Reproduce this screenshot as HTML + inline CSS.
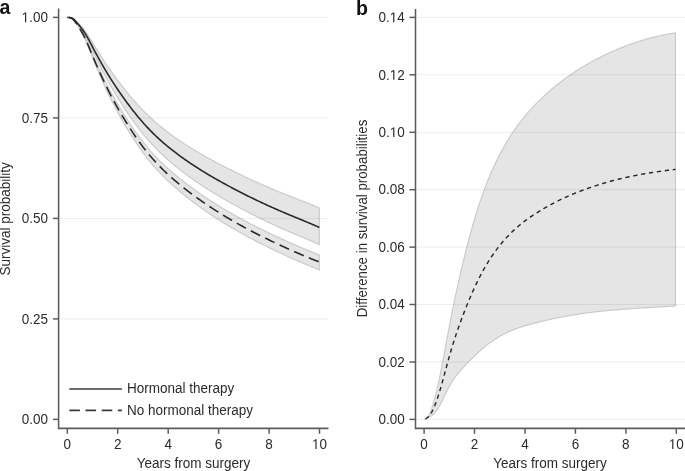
<!DOCTYPE html>
<html><head><meta charset="utf-8"><style>
html,body{margin:0;padding:0;background:#fff;}
svg{display:block;will-change:transform;}
text{font-family:"Liberation Sans", sans-serif;font-size:13.5px;fill:#2b2b2b;}
</style></head><body>
<svg width="685" height="471" viewBox="0 0 685 471">
<path d="M67.30,17.40 L68.27,17.46 L69.25,17.50 L70.22,17.57 L71.19,17.74 L72.16,18.05 L73.14,18.55 L74.11,19.23 L75.08,20.04 L76.06,20.95 L77.03,21.92 L78.00,22.90 L78.98,23.88 L79.95,24.88 L80.92,25.90 L81.89,26.97 L82.87,28.08 L83.84,29.27 L84.81,30.52 L85.79,31.87 L86.76,33.29 L87.73,34.78 L88.71,36.32 L89.68,37.91 L90.65,39.52 L91.62,41.15 L92.60,42.77 L93.57,44.39 L94.54,45.99 L95.52,47.58 L96.49,49.16 L97.46,50.73 L98.44,52.29 L99.41,53.83 L100.38,55.36 L101.35,56.87 L102.33,58.37 L103.30,59.86 L104.27,61.34 L105.25,62.80 L106.22,64.25 L107.19,65.69 L108.16,67.11 L109.14,68.52 L110.11,69.91 L111.08,71.30 L112.06,72.67 L113.03,74.03 L114.00,75.37 L114.98,76.71 L115.95,78.03 L116.92,79.34 L117.89,80.64 L118.87,81.93 L119.84,83.20 L120.81,84.47 L121.79,85.72 L122.76,86.97 L123.73,88.20 L124.71,89.42 L125.68,90.63 L126.65,91.84 L127.62,93.03 L128.60,94.21 L129.57,95.38 L130.54,96.53 L131.52,97.68 L132.49,98.82 L133.46,99.94 L134.44,101.05 L135.41,102.16 L136.38,103.25 L137.35,104.33 L138.33,105.39 L139.30,106.45 L140.27,107.49 L141.25,108.53 L142.22,109.55 L143.19,110.55 L144.16,111.55 L145.14,112.53 L146.11,113.51 L147.08,114.47 L148.06,115.41 L149.03,116.35 L150.00,117.27 L150.98,118.18 L151.95,119.08 L152.92,119.97 L153.89,120.85 L154.87,121.71 L155.84,122.57 L156.81,123.41 L157.79,124.25 L158.76,125.07 L159.73,125.88 L160.71,126.69 L161.68,127.48 L162.65,128.27 L163.62,129.04 L164.60,129.81 L165.57,130.57 L166.54,131.32 L167.52,132.06 L168.49,132.79 L169.46,133.52 L170.44,134.24 L171.41,134.95 L172.38,135.65 L173.35,136.35 L174.33,137.04 L175.30,137.73 L176.27,138.40 L177.25,139.08 L178.22,139.74 L179.19,140.40 L180.16,141.06 L181.14,141.71 L182.11,142.36 L183.08,143.00 L184.06,143.64 L185.03,144.27 L186.00,144.90 L186.98,145.52 L187.95,146.14 L188.92,146.75 L189.89,147.36 L190.87,147.97 L191.84,148.57 L192.81,149.17 L193.79,149.76 L194.76,150.35 L195.73,150.94 L196.71,151.52 L197.68,152.09 L198.65,152.67 L199.62,153.24 L200.60,153.81 L201.57,154.37 L202.54,154.93 L203.52,155.48 L204.49,156.04 L205.46,156.58 L206.44,157.13 L207.41,157.67 L208.38,158.21 L209.35,158.75 L210.33,159.28 L211.30,159.81 L212.27,160.34 L213.25,160.86 L214.22,161.39 L215.19,161.91 L216.16,162.42 L217.14,162.94 L218.11,163.45 L219.08,163.96 L220.06,164.46 L221.03,164.97 L222.00,165.47 L222.98,165.97 L223.95,166.47 L224.92,166.96 L225.89,167.45 L226.87,167.94 L227.84,168.43 L228.81,168.92 L229.79,169.41 L230.76,169.89 L231.73,170.37 L232.71,170.85 L233.68,171.33 L234.65,171.81 L235.62,172.29 L236.60,172.76 L237.57,173.23 L238.54,173.71 L239.52,174.17 L240.49,174.64 L241.46,175.11 L242.44,175.57 L243.41,176.04 L244.38,176.50 L245.35,176.96 L246.33,177.41 L247.30,177.87 L248.27,178.32 L249.25,178.78 L250.22,179.23 L251.19,179.68 L252.16,180.13 L253.14,180.57 L254.11,181.02 L255.08,181.46 L256.06,181.90 L257.03,182.34 L258.00,182.78 L258.98,183.21 L259.95,183.65 L260.92,184.08 L261.89,184.51 L262.87,184.94 L263.84,185.37 L264.81,185.79 L265.79,186.21 L266.76,186.64 L267.73,187.06 L268.71,187.48 L269.68,187.89 L270.65,188.31 L271.62,188.72 L272.60,189.13 L273.57,189.54 L274.54,189.95 L275.52,190.36 L276.49,190.76 L277.46,191.16 L278.44,191.57 L279.41,191.97 L280.38,192.36 L281.35,192.76 L282.33,193.15 L283.30,193.55 L284.27,193.94 L285.25,194.33 L286.22,194.71 L287.19,195.10 L288.16,195.49 L289.14,195.87 L290.11,196.25 L291.08,196.64 L292.06,197.02 L293.03,197.40 L294.00,197.78 L294.98,198.16 L295.95,198.54 L296.92,198.92 L297.89,199.31 L298.87,199.69 L299.84,200.07 L300.81,200.45 L301.79,200.83 L302.76,201.21 L303.73,201.60 L304.71,201.98 L305.68,202.37 L306.65,202.76 L307.62,203.14 L308.60,203.53 L309.57,203.92 L310.54,204.32 L311.52,204.71 L312.49,205.11 L313.46,205.51 L314.44,205.91 L315.41,206.31 L316.38,206.71 L317.35,207.12 L318.33,207.53 L319.30,207.94 L319.30,244.67 L318.33,244.22 L317.35,243.78 L316.38,243.35 L315.41,242.91 L314.44,242.48 L313.46,242.05 L312.49,241.62 L311.52,241.19 L310.54,240.77 L309.57,240.35 L308.60,239.93 L307.62,239.51 L306.65,239.09 L305.68,238.67 L304.71,238.25 L303.73,237.84 L302.76,237.42 L301.79,237.01 L300.81,236.59 L299.84,236.18 L298.87,235.77 L297.89,235.35 L296.92,234.94 L295.95,234.53 L294.98,234.11 L294.00,233.70 L293.03,233.29 L292.06,232.87 L291.08,232.45 L290.11,232.04 L289.14,231.62 L288.16,231.20 L287.19,230.78 L286.22,230.36 L285.25,229.94 L284.27,229.51 L283.30,229.08 L282.33,228.66 L281.35,228.22 L280.38,227.79 L279.41,227.36 L278.44,226.92 L277.46,226.48 L276.49,226.04 L275.52,225.59 L274.54,225.15 L273.57,224.70 L272.60,224.25 L271.62,223.80 L270.65,223.34 L269.68,222.88 L268.71,222.43 L267.73,221.96 L266.76,221.50 L265.79,221.04 L264.81,220.57 L263.84,220.10 L262.87,219.63 L261.89,219.15 L260.92,218.68 L259.95,218.20 L258.98,217.72 L258.00,217.23 L257.03,216.75 L256.06,216.26 L255.08,215.77 L254.11,215.28 L253.14,214.79 L252.16,214.29 L251.19,213.80 L250.22,213.30 L249.25,212.79 L248.27,212.29 L247.30,211.78 L246.33,211.28 L245.35,210.77 L244.38,210.25 L243.41,209.74 L242.44,209.22 L241.46,208.70 L240.49,208.18 L239.52,207.66 L238.54,207.13 L237.57,206.60 L236.60,206.07 L235.62,205.54 L234.65,205.01 L233.68,204.47 L232.71,203.93 L231.73,203.39 L230.76,202.85 L229.79,202.31 L228.81,201.76 L227.84,201.21 L226.87,200.66 L225.89,200.11 L224.92,199.55 L223.95,198.99 L222.98,198.43 L222.00,197.86 L221.03,197.30 L220.06,196.73 L219.08,196.15 L218.11,195.58 L217.14,195.00 L216.16,194.42 L215.19,193.83 L214.22,193.24 L213.25,192.65 L212.27,192.05 L211.30,191.45 L210.33,190.85 L209.35,190.24 L208.38,189.63 L207.41,189.02 L206.44,188.40 L205.46,187.78 L204.49,187.15 L203.52,186.52 L202.54,185.88 L201.57,185.24 L200.60,184.60 L199.62,183.95 L198.65,183.30 L197.68,182.64 L196.71,181.98 L195.73,181.31 L194.76,180.64 L193.79,179.96 L192.81,179.28 L191.84,178.59 L190.87,177.90 L189.89,177.20 L188.92,176.50 L187.95,175.79 L186.98,175.08 L186.00,174.36 L185.03,173.64 L184.06,172.91 L183.08,172.17 L182.11,171.43 L181.14,170.68 L180.16,169.92 L179.19,169.16 L178.22,168.40 L177.25,167.62 L176.27,166.84 L175.30,166.06 L174.33,165.26 L173.35,164.46 L172.38,163.64 L171.41,162.82 L170.44,162.00 L169.46,161.16 L168.49,160.31 L167.52,159.45 L166.54,158.59 L165.57,157.71 L164.60,156.82 L163.62,155.92 L162.65,155.02 L161.68,154.10 L160.71,153.16 L159.73,152.22 L158.76,151.26 L157.79,150.30 L156.81,149.32 L155.84,148.32 L154.87,147.31 L153.89,146.29 L152.92,145.26 L151.95,144.21 L150.98,143.15 L150.00,142.07 L149.03,140.98 L148.06,139.87 L147.08,138.75 L146.11,137.61 L145.14,136.45 L144.16,135.28 L143.19,134.10 L142.22,132.89 L141.25,131.68 L140.27,130.45 L139.30,129.20 L138.33,127.94 L137.35,126.66 L136.38,125.37 L135.41,124.06 L134.44,122.74 L133.46,121.40 L132.49,120.05 L131.52,118.68 L130.54,117.30 L129.57,115.90 L128.60,114.49 L127.62,113.07 L126.65,111.63 L125.68,110.17 L124.71,108.70 L123.73,107.22 L122.76,105.72 L121.79,104.21 L120.81,102.68 L119.84,101.14 L118.87,99.58 L117.89,98.00 L116.92,96.41 L115.95,94.81 L114.98,93.19 L114.00,91.55 L113.03,89.89 L112.06,88.22 L111.08,86.53 L110.11,84.82 L109.14,83.09 L108.16,81.34 L107.19,79.57 L106.22,77.79 L105.25,75.98 L104.27,74.16 L103.30,72.32 L102.33,70.45 L101.35,68.57 L100.38,66.66 L99.41,64.73 L98.44,62.79 L97.46,60.82 L96.49,58.84 L95.52,56.83 L94.54,54.80 L93.57,52.76 L92.60,50.69 L91.62,48.60 L90.65,46.51 L89.68,44.43 L88.71,42.38 L87.73,40.38 L86.76,38.45 L85.79,36.59 L84.81,34.84 L83.84,33.20 L82.87,31.65 L81.89,30.18 L80.92,28.78 L79.95,27.42 L78.98,26.10 L78.00,24.80 L77.03,23.49 L76.06,22.20 L75.08,20.98 L74.11,19.88 L73.14,18.96 L72.16,18.28 L71.19,17.86 L70.22,17.63 L69.25,17.53 L68.27,17.48 L67.30,17.40 Z" fill="#e5e5e5" stroke="#cacaca" stroke-width="1.15"/>
<path d="M67.30,17.40 L68.27,17.52 L69.25,17.62 L70.22,17.79 L71.19,18.09 L72.16,18.58 L73.14,19.32 L74.11,20.29 L75.08,21.44 L76.06,22.72 L77.03,24.10 L78.00,25.51 L78.98,26.95 L79.95,28.43 L80.92,29.97 L81.89,31.56 L82.87,33.23 L83.84,34.99 L84.81,36.84 L85.79,38.80 L86.76,40.86 L87.73,42.99 L88.71,45.19 L89.68,47.42 L90.65,49.68 L91.62,51.95 L92.60,54.20 L93.57,56.43 L94.54,58.63 L95.52,60.80 L96.49,62.94 L97.46,65.05 L98.44,67.15 L99.41,69.22 L100.38,71.28 L101.35,73.32 L102.33,75.35 L103.30,77.35 L104.27,79.34 L105.25,81.30 L106.22,83.23 L107.19,85.14 L108.16,87.02 L109.14,88.87 L110.11,90.70 L111.08,92.51 L112.06,94.30 L113.03,96.06 L114.00,97.80 L114.98,99.52 L115.95,101.22 L116.92,102.90 L117.89,104.56 L118.87,106.21 L119.84,107.84 L120.81,109.44 L121.79,111.04 L122.76,112.62 L123.73,114.18 L124.71,115.73 L125.68,117.26 L126.65,118.78 L127.62,120.28 L128.60,121.77 L129.57,123.24 L130.54,124.70 L131.52,126.14 L132.49,127.56 L133.46,128.97 L134.44,130.36 L135.41,131.74 L136.38,133.10 L137.35,134.45 L138.33,135.78 L139.30,137.09 L140.27,138.39 L141.25,139.66 L142.22,140.93 L143.19,142.17 L144.16,143.40 L145.14,144.62 L146.11,145.81 L147.08,146.99 L148.06,148.15 L149.03,149.30 L150.00,150.42 L150.98,151.53 L151.95,152.63 L152.92,153.71 L153.89,154.77 L154.87,155.82 L155.84,156.85 L156.81,157.87 L157.79,158.87 L158.76,159.86 L159.73,160.84 L160.71,161.81 L161.68,162.76 L162.65,163.70 L163.62,164.62 L164.60,165.54 L165.57,166.44 L166.54,167.34 L167.52,168.22 L168.49,169.09 L169.46,169.96 L170.44,170.81 L171.41,171.65 L172.38,172.49 L173.35,173.32 L174.33,174.13 L175.30,174.95 L176.27,175.75 L177.25,176.55 L178.22,177.34 L179.19,178.12 L180.16,178.90 L181.14,179.67 L182.11,180.44 L183.08,181.20 L184.06,181.96 L185.03,182.71 L186.00,183.46 L186.98,184.20 L187.95,184.93 L188.92,185.66 L189.89,186.39 L190.87,187.11 L191.84,187.83 L192.81,188.54 L193.79,189.25 L194.76,189.95 L195.73,190.65 L196.71,191.34 L197.68,192.03 L198.65,192.71 L199.62,193.39 L200.60,194.07 L201.57,194.74 L202.54,195.40 L203.52,196.07 L204.49,196.72 L205.46,197.38 L206.44,198.03 L207.41,198.67 L208.38,199.31 L209.35,199.95 L210.33,200.58 L211.30,201.21 L212.27,201.84 L213.25,202.46 L214.22,203.08 L215.19,203.69 L216.16,204.30 L217.14,204.91 L218.11,205.51 L219.08,206.11 L220.06,206.70 L221.03,207.30 L222.00,207.88 L222.98,208.47 L223.95,209.05 L224.92,209.63 L225.89,210.21 L226.87,210.78 L227.84,211.35 L228.81,211.91 L229.79,212.48 L230.76,213.04 L231.73,213.59 L232.71,214.15 L233.68,214.70 L234.65,215.25 L235.62,215.79 L236.60,216.33 L237.57,216.87 L238.54,217.41 L239.52,217.94 L240.49,218.47 L241.46,219.00 L242.44,219.53 L243.41,220.05 L244.38,220.57 L245.35,221.09 L246.33,221.61 L247.30,222.12 L248.27,222.63 L249.25,223.14 L250.22,223.65 L251.19,224.15 L252.16,224.65 L253.14,225.15 L254.11,225.65 L255.08,226.14 L256.06,226.64 L257.03,227.13 L258.00,227.62 L258.98,228.10 L259.95,228.59 L260.92,229.07 L261.89,229.55 L262.87,230.03 L263.84,230.50 L264.81,230.98 L265.79,231.45 L266.76,231.92 L267.73,232.39 L268.71,232.86 L269.68,233.32 L270.65,233.78 L271.62,234.25 L272.60,234.71 L273.57,235.16 L274.54,235.62 L275.52,236.08 L276.49,236.53 L277.46,236.98 L278.44,237.43 L279.41,237.88 L280.38,238.33 L281.35,238.78 L282.33,239.22 L283.30,239.67 L284.27,240.11 L285.25,240.55 L286.22,240.99 L287.19,241.43 L288.16,241.87 L289.14,242.30 L290.11,242.74 L291.08,243.17 L292.06,243.60 L293.03,244.03 L294.00,244.46 L294.98,244.88 L295.95,245.31 L296.92,245.73 L297.89,246.15 L298.87,246.57 L299.84,246.99 L300.81,247.40 L301.79,247.82 L302.76,248.23 L303.73,248.64 L304.71,249.05 L305.68,249.45 L306.65,249.86 L307.62,250.26 L308.60,250.66 L309.57,251.06 L310.54,251.45 L311.52,251.85 L312.49,252.24 L313.46,252.63 L314.44,253.02 L315.41,253.40 L316.38,253.79 L317.35,254.17 L318.33,254.55 L319.30,254.92 L319.30,269.83 L318.33,269.45 L317.35,269.07 L316.38,268.68 L315.41,268.30 L314.44,267.91 L313.46,267.52 L312.49,267.13 L311.52,266.73 L310.54,266.33 L309.57,265.93 L308.60,265.53 L307.62,265.13 L306.65,264.72 L305.68,264.31 L304.71,263.90 L303.73,263.49 L302.76,263.08 L301.79,262.66 L300.81,262.24 L299.84,261.82 L298.87,261.40 L297.89,260.98 L296.92,260.55 L295.95,260.12 L294.98,259.69 L294.00,259.26 L293.03,258.83 L292.06,258.39 L291.08,257.96 L290.11,257.52 L289.14,257.08 L288.16,256.64 L287.19,256.19 L286.22,255.75 L285.25,255.30 L284.27,254.85 L283.30,254.41 L282.33,253.95 L281.35,253.50 L280.38,253.05 L279.41,252.59 L278.44,252.14 L277.46,251.68 L276.49,251.22 L275.52,250.75 L274.54,250.29 L273.57,249.83 L272.60,249.36 L271.62,248.89 L270.65,248.42 L269.68,247.95 L268.71,247.47 L267.73,247.00 L266.76,246.52 L265.79,246.04 L264.81,245.56 L263.84,245.07 L262.87,244.59 L261.89,244.10 L260.92,243.61 L259.95,243.11 L258.98,242.62 L258.00,242.12 L257.03,241.62 L256.06,241.12 L255.08,240.62 L254.11,240.11 L253.14,239.60 L252.16,239.09 L251.19,238.58 L250.22,238.06 L249.25,237.54 L248.27,237.02 L247.30,236.50 L246.33,235.97 L245.35,235.44 L244.38,234.91 L243.41,234.37 L242.44,233.83 L241.46,233.29 L240.49,232.75 L239.52,232.20 L238.54,231.66 L237.57,231.10 L236.60,230.55 L235.62,229.99 L234.65,229.43 L233.68,228.87 L232.71,228.30 L231.73,227.73 L230.76,227.15 L229.79,226.58 L228.81,226.00 L227.84,225.41 L226.87,224.83 L225.89,224.24 L224.92,223.64 L223.95,223.04 L222.98,222.44 L222.00,221.84 L221.03,221.23 L220.06,220.62 L219.08,220.00 L218.11,219.38 L217.14,218.76 L216.16,218.13 L215.19,217.50 L214.22,216.86 L213.25,216.22 L212.27,215.58 L211.30,214.93 L210.33,214.28 L209.35,213.62 L208.38,212.96 L207.41,212.30 L206.44,211.63 L205.46,210.95 L204.49,210.27 L203.52,209.59 L202.54,208.90 L201.57,208.21 L200.60,207.51 L199.62,206.81 L198.65,206.10 L197.68,205.39 L196.71,204.67 L195.73,203.95 L194.76,203.23 L193.79,202.49 L192.81,201.76 L191.84,201.01 L190.87,200.27 L189.89,199.51 L188.92,198.75 L187.95,197.99 L186.98,197.22 L186.00,196.45 L185.03,195.67 L184.06,194.88 L183.08,194.09 L182.11,193.29 L181.14,192.49 L180.16,191.68 L179.19,190.86 L178.22,190.04 L177.25,189.21 L176.27,188.38 L175.30,187.53 L174.33,186.68 L173.35,185.82 L172.38,184.95 L171.41,184.08 L170.44,183.19 L169.46,182.29 L168.49,181.38 L167.52,180.47 L166.54,179.54 L165.57,178.59 L164.60,177.64 L163.62,176.68 L162.65,175.70 L161.68,174.71 L160.71,173.71 L159.73,172.69 L158.76,171.66 L157.79,170.61 L156.81,169.55 L155.84,168.47 L154.87,167.38 L153.89,166.27 L152.92,165.15 L151.95,164.00 L150.98,162.84 L150.00,161.67 L149.03,160.47 L148.06,159.26 L147.08,158.03 L146.11,156.78 L145.14,155.51 L144.16,154.22 L143.19,152.91 L142.22,151.58 L141.25,150.24 L140.27,148.88 L139.30,147.50 L138.33,146.10 L137.35,144.68 L136.38,143.25 L135.41,141.79 L134.44,140.32 L133.46,138.83 L132.49,137.33 L131.52,135.80 L130.54,134.26 L129.57,132.70 L128.60,131.13 L127.62,129.53 L126.65,127.92 L125.68,126.29 L124.71,124.65 L123.73,122.98 L122.76,121.30 L121.79,119.61 L120.81,117.89 L119.84,116.16 L118.87,114.41 L117.89,112.64 L116.92,110.84 L115.95,109.03 L114.98,107.20 L114.00,105.34 L113.03,103.46 L112.06,101.55 L111.08,99.62 L110.11,97.66 L109.14,95.68 L108.16,93.67 L107.19,91.63 L106.22,89.56 L105.25,87.47 L104.27,85.33 L103.30,83.17 L102.33,80.99 L101.35,78.79 L100.38,76.56 L99.41,74.32 L98.44,72.06 L97.46,69.77 L96.49,67.46 L95.52,65.12 L94.54,62.76 L93.57,60.35 L92.60,57.91 L91.62,55.44 L90.65,52.96 L89.68,50.48 L88.71,48.03 L87.73,45.62 L86.76,43.27 L85.79,41.01 L84.81,38.85 L83.84,36.81 L82.87,34.88 L81.89,33.04 L80.92,31.28 L79.95,29.59 L78.98,27.96 L78.00,26.36 L77.03,24.80 L76.06,23.29 L75.08,21.86 L74.11,20.59 L73.14,19.52 L72.16,18.71 L71.19,18.16 L70.22,17.83 L69.25,17.65 L68.27,17.54 L67.30,17.40 Z" fill="#e5e5e5" stroke="#cacaca" stroke-width="1.15"/>
<path d="M424.10,419.20 L425.07,418.98 L426.04,418.56 L427.01,417.95 L427.98,416.92 L428.95,415.30 L429.92,413.31 L430.89,410.94 L431.87,408.24 L432.84,405.21 L433.81,401.89 L434.78,398.32 L435.75,394.53 L436.72,390.52 L437.69,386.30 L438.66,381.89 L439.63,377.31 L440.60,372.56 L441.57,367.67 L442.54,362.67 L443.51,357.57 L444.48,352.41 L445.45,347.20 L446.43,341.97 L447.40,336.75 L448.37,331.56 L449.34,326.43 L450.31,321.38 L451.28,316.42 L452.25,311.53 L453.22,306.73 L454.19,302.01 L455.16,297.37 L456.13,292.81 L457.10,288.33 L458.07,283.93 L459.04,279.60 L460.01,275.34 L460.98,271.15 L461.96,267.03 L462.93,262.96 L463.90,258.95 L464.87,255.01 L465.84,251.13 L466.81,247.31 L467.78,243.55 L468.75,239.86 L469.72,236.23 L470.69,232.67 L471.66,229.17 L472.63,225.74 L473.60,222.38 L474.57,219.08 L475.54,215.85 L476.52,212.69 L477.49,209.60 L478.46,206.57 L479.43,203.61 L480.40,200.72 L481.37,197.89 L482.34,195.12 L483.31,192.41 L484.28,189.77 L485.25,187.18 L486.22,184.65 L487.19,182.18 L488.16,179.75 L489.13,177.39 L490.10,175.07 L491.08,172.80 L492.05,170.59 L493.02,168.42 L493.99,166.29 L494.96,164.21 L495.93,162.17 L496.90,160.17 L497.87,158.22 L498.84,156.30 L499.81,154.42 L500.78,152.58 L501.75,150.77 L502.72,148.99 L503.69,147.25 L504.66,145.54 L505.64,143.86 L506.61,142.21 L507.58,140.60 L508.55,139.01 L509.52,137.45 L510.49,135.92 L511.46,134.42 L512.43,132.95 L513.40,131.50 L514.37,130.08 L515.34,128.68 L516.31,127.31 L517.28,125.96 L518.25,124.64 L519.22,123.34 L520.19,122.06 L521.17,120.81 L522.14,119.57 L523.11,118.36 L524.08,117.17 L525.05,115.99 L526.02,114.84 L526.99,113.70 L527.96,112.58 L528.93,111.48 L529.90,110.39 L530.87,109.32 L531.84,108.26 L532.81,107.22 L533.78,106.19 L534.75,105.18 L535.73,104.18 L536.70,103.19 L537.67,102.21 L538.64,101.24 L539.61,100.29 L540.58,99.34 L541.55,98.40 L542.52,97.48 L543.49,96.56 L544.46,95.66 L545.43,94.77 L546.40,93.88 L547.37,93.01 L548.34,92.14 L549.31,91.29 L550.29,90.44 L551.26,89.61 L552.23,88.78 L553.20,87.96 L554.17,87.15 L555.14,86.35 L556.11,85.56 L557.08,84.78 L558.05,84.01 L559.02,83.25 L559.99,82.49 L560.96,81.74 L561.93,81.00 L562.90,80.27 L563.87,79.55 L564.85,78.83 L565.82,78.13 L566.79,77.43 L567.76,76.73 L568.73,76.05 L569.70,75.37 L570.67,74.70 L571.64,74.04 L572.61,73.38 L573.58,72.73 L574.55,72.09 L575.52,71.45 L576.49,70.83 L577.46,70.20 L578.43,69.59 L579.41,68.98 L580.38,68.37 L581.35,67.78 L582.32,67.18 L583.29,66.60 L584.26,66.02 L585.23,65.44 L586.20,64.87 L587.17,64.31 L588.14,63.75 L589.11,63.20 L590.08,62.65 L591.05,62.11 L592.02,61.57 L592.99,61.04 L593.96,60.51 L594.94,59.99 L595.91,59.47 L596.88,58.96 L597.85,58.45 L598.82,57.95 L599.79,57.45 L600.76,56.96 L601.73,56.47 L602.70,55.99 L603.67,55.51 L604.64,55.04 L605.61,54.57 L606.58,54.11 L607.55,53.65 L608.52,53.20 L609.50,52.75 L610.47,52.31 L611.44,51.87 L612.41,51.44 L613.38,51.01 L614.35,50.58 L615.32,50.16 L616.29,49.75 L617.26,49.34 L618.23,48.93 L619.20,48.53 L620.17,48.14 L621.14,47.75 L622.11,47.36 L623.08,46.98 L624.06,46.60 L625.03,46.23 L626.00,45.86 L626.97,45.50 L627.94,45.14 L628.91,44.78 L629.88,44.44 L630.85,44.09 L631.82,43.75 L632.79,43.41 L633.76,43.08 L634.73,42.75 L635.70,42.43 L636.67,42.11 L637.64,41.80 L638.62,41.49 L639.59,41.18 L640.56,40.88 L641.53,40.59 L642.50,40.29 L643.47,40.01 L644.44,39.72 L645.41,39.44 L646.38,39.17 L647.35,38.90 L648.32,38.63 L649.29,38.37 L650.26,38.11 L651.23,37.86 L652.20,37.61 L653.17,37.36 L654.15,37.12 L655.12,36.88 L656.09,36.65 L657.06,36.42 L658.03,36.19 L659.00,35.97 L659.97,35.76 L660.94,35.54 L661.91,35.34 L662.88,35.13 L663.85,34.93 L664.82,34.73 L665.79,34.54 L666.76,34.35 L667.73,34.17 L668.71,33.98 L669.68,33.81 L670.65,33.63 L671.62,33.46 L672.59,33.30 L673.56,33.14 L674.53,32.98 L675.50,32.82 L675.50,305.93 L674.53,306.00 L673.56,306.06 L672.59,306.13 L671.62,306.20 L670.65,306.26 L669.68,306.32 L668.71,306.39 L667.73,306.45 L666.76,306.51 L665.79,306.57 L664.82,306.64 L663.85,306.70 L662.88,306.76 L661.91,306.82 L660.94,306.88 L659.97,306.94 L659.00,306.99 L658.03,307.05 L657.06,307.11 L656.09,307.17 L655.12,307.23 L654.15,307.29 L653.17,307.34 L652.20,307.40 L651.23,307.46 L650.26,307.52 L649.29,307.58 L648.32,307.63 L647.35,307.69 L646.38,307.75 L645.41,307.81 L644.44,307.87 L643.47,307.93 L642.50,307.99 L641.53,308.04 L640.56,308.10 L639.59,308.16 L638.62,308.23 L637.64,308.29 L636.67,308.35 L635.70,308.41 L634.73,308.47 L633.76,308.54 L632.79,308.60 L631.82,308.66 L630.85,308.73 L629.88,308.80 L628.91,308.86 L627.94,308.93 L626.97,309.00 L626.00,309.07 L625.03,309.14 L624.06,309.21 L623.08,309.28 L622.11,309.35 L621.14,309.42 L620.17,309.50 L619.20,309.58 L618.23,309.65 L617.26,309.73 L616.29,309.81 L615.32,309.89 L614.35,309.97 L613.38,310.05 L612.41,310.14 L611.44,310.22 L610.47,310.31 L609.50,310.40 L608.52,310.49 L607.55,310.58 L606.58,310.67 L605.61,310.77 L604.64,310.86 L603.67,310.96 L602.70,311.06 L601.73,311.16 L600.76,311.26 L599.79,311.37 L598.82,311.47 L597.85,311.58 L596.88,311.69 L595.91,311.80 L594.94,311.91 L593.96,312.03 L592.99,312.15 L592.02,312.27 L591.05,312.39 L590.08,312.51 L589.11,312.64 L588.14,312.76 L587.17,312.89 L586.20,313.03 L585.23,313.16 L584.26,313.30 L583.29,313.43 L582.32,313.57 L581.35,313.72 L580.38,313.86 L579.41,314.01 L578.43,314.16 L577.46,314.31 L576.49,314.46 L575.52,314.62 L574.55,314.78 L573.58,314.94 L572.61,315.10 L571.64,315.26 L570.67,315.43 L569.70,315.60 L568.73,315.77 L567.76,315.94 L566.79,316.11 L565.82,316.29 L564.85,316.47 L563.87,316.65 L562.90,316.84 L561.93,317.02 L560.96,317.21 L559.99,317.40 L559.02,317.59 L558.05,317.78 L557.08,317.98 L556.11,318.18 L555.14,318.38 L554.17,318.58 L553.20,318.78 L552.23,318.99 L551.26,319.20 L550.29,319.41 L549.31,319.62 L548.34,319.84 L547.37,320.06 L546.40,320.27 L545.43,320.50 L544.46,320.72 L543.49,320.94 L542.52,321.17 L541.55,321.40 L540.58,321.63 L539.61,321.87 L538.64,322.10 L537.67,322.34 L536.70,322.58 L535.73,322.82 L534.75,323.07 L533.78,323.32 L532.81,323.57 L531.84,323.82 L530.87,324.08 L529.90,324.35 L528.93,324.61 L527.96,324.89 L526.99,325.16 L526.02,325.45 L525.05,325.74 L524.08,326.03 L523.11,326.33 L522.14,326.64 L521.17,326.96 L520.19,327.28 L519.22,327.61 L518.25,327.95 L517.28,328.29 L516.31,328.65 L515.34,329.01 L514.37,329.39 L513.40,329.77 L512.43,330.16 L511.46,330.57 L510.49,330.98 L509.52,331.40 L508.55,331.84 L507.58,332.28 L506.61,332.74 L505.64,333.21 L504.66,333.69 L503.69,334.19 L502.72,334.70 L501.75,335.22 L500.78,335.76 L499.81,336.31 L498.84,336.88 L497.87,337.46 L496.90,338.05 L495.93,338.67 L494.96,339.29 L493.99,339.94 L493.02,340.60 L492.05,341.27 L491.08,341.96 L490.10,342.66 L489.13,343.38 L488.16,344.11 L487.19,344.86 L486.22,345.62 L485.25,346.40 L484.28,347.19 L483.31,348.00 L482.34,348.82 L481.37,349.65 L480.40,350.50 L479.43,351.37 L478.46,352.25 L477.49,353.14 L476.52,354.04 L475.54,354.96 L474.57,355.89 L473.60,356.82 L472.63,357.77 L471.66,358.73 L470.69,359.70 L469.72,360.68 L468.75,361.67 L467.78,362.67 L466.81,363.69 L465.84,364.72 L464.87,365.76 L463.90,366.81 L462.93,367.88 L461.96,368.97 L460.98,370.06 L460.01,371.18 L459.04,372.32 L458.07,373.49 L457.10,374.69 L456.13,375.93 L455.16,377.22 L454.19,378.55 L453.22,379.95 L452.25,381.41 L451.28,382.95 L450.31,384.57 L449.34,386.29 L448.37,388.09 L447.40,389.97 L446.43,391.92 L445.45,393.91 L444.48,395.92 L443.51,397.93 L442.54,399.92 L441.57,401.88 L440.60,403.78 L439.63,405.59 L438.66,407.31 L437.69,408.90 L436.72,410.37 L435.75,411.70 L434.78,412.88 L433.81,413.91 L432.84,414.77 L431.87,415.50 L430.89,416.09 L429.92,416.58 L428.95,417.00 L427.98,417.38 L427.01,417.95 L426.04,418.56 L425.07,418.98 L424.10,419.20 Z" fill="#e5e5e5" stroke="#cacaca" stroke-width="1.15"/>
<line x1="59.2" y1="17.4" x2="328.3" y2="17.4" stroke="rgba(0,0,0,0.075)" stroke-width="1"/>
<line x1="59.2" y1="117.9" x2="328.3" y2="117.9" stroke="rgba(0,0,0,0.075)" stroke-width="1"/>
<line x1="59.2" y1="218.4" x2="328.3" y2="218.4" stroke="rgba(0,0,0,0.075)" stroke-width="1"/>
<line x1="59.2" y1="318.9" x2="328.3" y2="318.9" stroke="rgba(0,0,0,0.075)" stroke-width="1"/>
<line x1="416.2" y1="17.4" x2="685" y2="17.4" stroke="rgba(0,0,0,0.075)" stroke-width="1"/>
<line x1="416.2" y1="74.8" x2="685" y2="74.8" stroke="rgba(0,0,0,0.075)" stroke-width="1"/>
<line x1="416.2" y1="132.3" x2="685" y2="132.3" stroke="rgba(0,0,0,0.075)" stroke-width="1"/>
<line x1="416.2" y1="189.7" x2="685" y2="189.7" stroke="rgba(0,0,0,0.075)" stroke-width="1"/>
<line x1="416.2" y1="247.1" x2="685" y2="247.1" stroke="rgba(0,0,0,0.075)" stroke-width="1"/>
<line x1="416.2" y1="304.5" x2="685" y2="304.5" stroke="rgba(0,0,0,0.075)" stroke-width="1"/>
<line x1="416.2" y1="362.0" x2="685" y2="362.0" stroke="rgba(0,0,0,0.075)" stroke-width="1"/>
<line x1="416.2" y1="419.4" x2="685" y2="419.4" stroke="rgba(0,0,0,0.075)" stroke-width="1"/>
<path d="M67.30,17.40 L68.27,17.47 L69.25,17.52 L70.22,17.61 L71.19,17.81 L72.16,18.18 L73.14,18.79 L74.11,19.60 L75.08,20.58 L76.06,21.66 L77.03,22.81 L78.00,23.97 L78.98,25.13 L79.95,26.30 L80.92,27.51 L81.89,28.76 L82.87,30.06 L83.84,31.44 L84.81,32.91 L85.79,34.47 L86.76,36.12 L87.73,37.85 L88.71,39.64 L89.68,41.47 L90.65,43.33 L91.62,45.20 L92.60,47.07 L93.57,48.92 L94.54,50.75 L95.52,52.57 L96.49,54.37 L97.46,56.16 L98.44,57.92 L99.41,59.67 L100.38,61.41 L101.35,63.12 L102.33,64.82 L103.30,66.50 L104.27,68.17 L105.25,69.81 L106.22,71.44 L107.19,73.06 L108.16,74.65 L109.14,76.23 L110.11,77.80 L111.08,79.35 L112.06,80.88 L113.03,82.40 L114.00,83.90 L114.98,85.39 L115.95,86.86 L116.92,88.32 L117.89,89.77 L118.87,91.20 L119.84,92.62 L120.81,94.02 L121.79,95.41 L122.76,96.79 L123.73,98.16 L124.71,99.52 L125.68,100.86 L126.65,102.19 L127.62,103.51 L128.60,104.81 L129.57,106.10 L130.54,107.38 L131.52,108.65 L132.49,109.90 L133.46,111.14 L134.44,112.37 L135.41,113.58 L136.38,114.78 L137.35,115.97 L138.33,117.15 L139.30,118.31 L140.27,119.45 L141.25,120.59 L142.22,121.71 L143.19,122.82 L144.16,123.91 L145.14,124.99 L146.11,126.05 L147.08,127.11 L148.06,128.15 L149.03,129.17 L150.00,130.18 L150.98,131.18 L151.95,132.16 L152.92,133.13 L153.89,134.09 L154.87,135.04 L155.84,135.97 L156.81,136.89 L157.79,137.80 L158.76,138.70 L159.73,139.59 L160.71,140.46 L161.68,141.33 L162.65,142.19 L163.62,143.03 L164.60,143.87 L165.57,144.69 L166.54,145.51 L167.52,146.32 L168.49,147.12 L169.46,147.91 L170.44,148.69 L171.41,149.46 L172.38,150.23 L173.35,150.98 L174.33,151.73 L175.30,152.48 L176.27,153.21 L177.25,153.94 L178.22,154.67 L179.19,155.38 L180.16,156.10 L181.14,156.80 L182.11,157.50 L183.08,158.20 L184.06,158.89 L185.03,159.57 L186.00,160.25 L186.98,160.93 L187.95,161.60 L188.92,162.26 L189.89,162.92 L190.87,163.58 L191.84,164.23 L192.81,164.87 L193.79,165.51 L194.76,166.15 L195.73,166.78 L196.71,167.41 L197.68,168.03 L198.65,168.65 L199.62,169.27 L200.60,169.88 L201.57,170.49 L202.54,171.09 L203.52,171.69 L204.49,172.28 L205.46,172.88 L206.44,173.46 L207.41,174.05 L208.38,174.63 L209.35,175.21 L210.33,175.78 L211.30,176.35 L212.27,176.92 L213.25,177.48 L214.22,178.04 L215.19,178.60 L216.16,179.15 L217.14,179.71 L218.11,180.25 L219.08,180.80 L220.06,181.34 L221.03,181.88 L222.00,182.42 L222.98,182.96 L223.95,183.49 L224.92,184.02 L225.89,184.55 L226.87,185.08 L227.84,185.60 L228.81,186.12 L229.79,186.64 L230.76,187.16 L231.73,187.68 L232.71,188.19 L233.68,188.70 L234.65,189.21 L235.62,189.72 L236.60,190.23 L237.57,190.73 L238.54,191.24 L239.52,191.74 L240.49,192.24 L241.46,192.73 L242.44,193.23 L243.41,193.72 L244.38,194.21 L245.35,194.70 L246.33,195.19 L247.30,195.68 L248.27,196.16 L249.25,196.64 L250.22,197.12 L251.19,197.60 L252.16,198.08 L253.14,198.55 L254.11,199.02 L255.08,199.49 L256.06,199.96 L257.03,200.43 L258.00,200.89 L258.98,201.36 L259.95,201.82 L260.92,202.28 L261.89,202.73 L262.87,203.19 L263.84,203.64 L264.81,204.09 L265.79,204.54 L266.76,204.99 L267.73,205.43 L268.71,205.88 L269.68,206.32 L270.65,206.76 L271.62,207.20 L272.60,207.63 L273.57,208.06 L274.54,208.50 L275.52,208.93 L276.49,209.35 L277.46,209.78 L278.44,210.20 L279.41,210.62 L280.38,211.04 L281.35,211.46 L282.33,211.88 L283.30,212.29 L284.27,212.70 L285.25,213.11 L286.22,213.52 L287.19,213.93 L288.16,214.34 L289.14,214.74 L290.11,215.15 L291.08,215.55 L292.06,215.95 L293.03,216.35 L294.00,216.75 L294.98,217.15 L295.95,217.55 L296.92,217.95 L297.89,218.35 L298.87,218.76 L299.84,219.16 L300.81,219.56 L301.79,219.96 L302.76,220.36 L303.73,220.76 L304.71,221.17 L305.68,221.57 L306.65,221.98 L307.62,222.38 L308.60,222.79 L309.57,223.20 L310.54,223.61 L311.52,224.02 L312.49,224.44 L313.46,224.85 L314.44,225.27 L315.41,225.69 L316.38,226.12 L317.35,226.54 L318.33,226.97 L319.30,227.40" fill="none" stroke="#2a2a2a" stroke-width="1.6"/>
<path d="M67.30,17.40 L68.27,17.53 L69.25,17.63 L70.22,17.81 L71.19,18.12 L72.16,18.64 L73.14,19.41 L74.11,20.43 L75.08,21.63 L76.06,22.98 L77.03,24.42 L78.00,25.91 L78.98,27.42 L79.95,28.97 L80.92,30.57 L81.89,32.24 L82.87,33.99 L83.84,35.83 L84.81,37.77 L85.79,39.83 L86.76,41.98 L87.73,44.21 L88.71,46.50 L89.68,48.84 L90.65,51.20 L91.62,53.57 L92.60,55.92 L93.57,58.25 L94.54,60.55 L95.52,62.81 L96.49,65.04 L97.46,67.24 L98.44,69.43 L99.41,71.59 L100.38,73.74 L101.35,75.86 L102.33,77.97 L103.30,80.06 L104.27,82.12 L105.25,84.17 L106.22,86.18 L107.19,88.16 L108.16,90.11 L109.14,92.04 L110.11,93.94 L111.08,95.82 L112.06,97.67 L113.03,99.50 L114.00,101.31 L114.98,103.10 L115.95,104.86 L116.92,106.60 L117.89,108.33 L118.87,110.03 L119.84,111.71 L120.81,113.38 L121.79,115.03 L122.76,116.67 L123.73,118.28 L124.71,119.89 L125.68,121.47 L126.65,123.04 L127.62,124.60 L128.60,126.13 L129.57,127.66 L130.54,129.16 L131.52,130.65 L132.49,132.12 L133.46,133.58 L134.44,135.01 L135.41,136.44 L136.38,137.84 L137.35,139.23 L138.33,140.60 L139.30,141.95 L140.27,143.29 L141.25,144.61 L142.22,145.91 L143.19,147.19 L144.16,148.46 L145.14,149.71 L146.11,150.94 L147.08,152.15 L148.06,153.35 L149.03,154.53 L150.00,155.68 L150.98,156.83 L151.95,157.95 L152.92,159.06 L153.89,160.15 L154.87,161.23 L155.84,162.29 L156.81,163.34 L157.79,164.37 L158.76,165.39 L159.73,166.39 L160.71,167.38 L161.68,168.36 L162.65,169.32 L163.62,170.27 L164.60,171.21 L165.57,172.14 L166.54,173.06 L167.52,173.96 L168.49,174.86 L169.46,175.74 L170.44,176.61 L171.41,177.48 L172.38,178.34 L173.35,179.18 L174.33,180.02 L175.30,180.85 L176.27,181.68 L177.25,182.49 L178.22,183.30 L179.19,184.10 L180.16,184.90 L181.14,185.69 L182.11,186.47 L183.08,187.25 L184.06,188.03 L185.03,188.79 L186.00,189.56 L186.98,190.31 L187.95,191.07 L188.92,191.81 L189.89,192.56 L190.87,193.29 L191.84,194.03 L192.81,194.75 L193.79,195.47 L194.76,196.19 L195.73,196.90 L196.71,197.61 L197.68,198.31 L198.65,199.01 L199.62,199.70 L200.60,200.39 L201.57,201.08 L202.54,201.75 L203.52,202.43 L204.49,203.10 L205.46,203.77 L206.44,204.43 L207.41,205.08 L208.38,205.74 L209.35,206.39 L210.33,207.03 L211.30,207.67 L212.27,208.31 L213.25,208.94 L214.22,209.57 L215.19,210.19 L216.16,210.81 L217.14,211.43 L218.11,212.04 L219.08,212.65 L220.06,213.26 L221.03,213.86 L222.00,214.46 L222.98,215.05 L223.95,215.65 L224.92,216.23 L225.89,216.82 L226.87,217.40 L227.84,217.98 L228.81,218.55 L229.79,219.12 L230.76,219.69 L231.73,220.26 L232.71,220.82 L233.68,221.38 L234.65,221.93 L235.62,222.49 L236.60,223.04 L237.57,223.59 L238.54,224.13 L239.52,224.67 L240.49,225.21 L241.46,225.75 L242.44,226.28 L243.41,226.81 L244.38,227.34 L245.35,227.86 L246.33,228.39 L247.30,228.91 L248.27,229.42 L249.25,229.94 L250.22,230.45 L251.19,230.96 L252.16,231.47 L253.14,231.98 L254.11,232.48 L255.08,232.98 L256.06,233.48 L257.03,233.97 L258.00,234.47 L258.98,234.96 L259.95,235.45 L260.92,235.94 L261.89,236.42 L262.87,236.91 L263.84,237.39 L264.81,237.87 L265.79,238.35 L266.76,238.82 L267.73,239.29 L268.71,239.77 L269.68,240.24 L270.65,240.70 L271.62,241.17 L272.60,241.64 L273.57,242.10 L274.54,242.56 L275.52,243.02 L276.49,243.48 L277.46,243.94 L278.44,244.39 L279.41,244.84 L280.38,245.30 L281.35,245.75 L282.33,246.20 L283.30,246.64 L284.27,247.09 L285.25,247.53 L286.22,247.98 L287.19,248.42 L288.16,248.86 L289.14,249.30 L290.11,249.74 L291.08,250.17 L292.06,250.61 L293.03,251.04 L294.00,251.47 L294.98,251.90 L295.95,252.33 L296.92,252.75 L297.89,253.18 L298.87,253.60 L299.84,254.02 L300.81,254.44 L301.79,254.85 L302.76,255.27 L303.73,255.68 L304.71,256.09 L305.68,256.50 L306.65,256.90 L307.62,257.31 L308.60,257.71 L309.57,258.11 L310.54,258.51 L311.52,258.91 L312.49,259.30 L313.46,259.69 L314.44,260.08 L315.41,260.47 L316.38,260.85 L317.35,261.24 L318.33,261.62 L319.30,261.99" fill="none" stroke="#2a2a2a" stroke-width="1.6" stroke-dasharray="10.5 5.5" stroke-dashoffset="14.1"/>
<path d="M424.10,419.20 L425.07,418.98 L426.04,418.56 L427.01,417.95 L427.98,417.15 L428.95,416.15 L429.92,414.94 L430.89,413.52 L431.87,411.87 L432.84,409.99 L433.81,407.90 L434.78,405.60 L435.75,403.12 L436.72,400.44 L437.69,397.60 L438.66,394.60 L439.63,391.45 L440.60,388.17 L441.57,384.78 L442.54,381.30 L443.51,377.75 L444.48,374.16 L445.45,370.55 L446.43,366.95 L447.40,363.36 L448.37,359.83 L449.34,356.36 L450.31,352.98 L451.28,349.68 L452.25,346.47 L453.22,343.34 L454.19,340.28 L455.16,337.29 L456.13,334.37 L457.10,331.51 L458.07,328.71 L459.04,325.96 L460.01,323.26 L460.98,320.61 L461.96,318.00 L462.93,315.42 L463.90,312.88 L464.87,310.38 L465.84,307.92 L466.81,305.50 L467.78,303.11 L468.75,300.76 L469.72,298.45 L470.69,296.18 L471.66,293.95 L472.63,291.75 L473.60,289.60 L474.57,287.48 L475.54,285.41 L476.52,283.37 L477.49,281.37 L478.46,279.41 L479.43,277.49 L480.40,275.61 L481.37,273.77 L482.34,271.97 L483.31,270.21 L484.28,268.48 L485.25,266.79 L486.22,265.14 L487.19,263.52 L488.16,261.93 L489.13,260.38 L490.10,258.86 L491.08,257.38 L492.05,255.93 L493.02,254.51 L493.99,253.11 L494.96,251.75 L495.93,250.42 L496.90,249.11 L497.87,247.84 L498.84,246.59 L499.81,245.36 L500.78,244.17 L501.75,242.99 L502.72,241.84 L503.69,240.72 L504.66,239.62 L505.64,238.54 L506.61,237.48 L507.58,236.44 L508.55,235.42 L509.52,234.43 L510.49,233.45 L511.46,232.49 L512.43,231.55 L513.40,230.63 L514.37,229.73 L515.34,228.85 L516.31,227.98 L517.28,227.13 L518.25,226.29 L519.22,225.48 L520.19,224.67 L521.17,223.88 L522.14,223.11 L523.11,222.35 L524.08,221.60 L525.05,220.86 L526.02,220.14 L526.99,219.43 L527.96,218.73 L528.93,218.04 L529.90,217.37 L530.87,216.70 L531.84,216.04 L532.81,215.39 L533.78,214.76 L534.75,214.12 L535.73,213.50 L536.70,212.88 L537.67,212.28 L538.64,211.67 L539.61,211.08 L540.58,210.49 L541.55,209.90 L542.52,209.33 L543.49,208.75 L544.46,208.19 L545.43,207.63 L546.40,207.08 L547.37,206.53 L548.34,205.99 L549.31,205.46 L550.29,204.93 L551.26,204.40 L552.23,203.89 L553.20,203.37 L554.17,202.87 L555.14,202.37 L556.11,201.87 L557.08,201.38 L558.05,200.90 L559.02,200.42 L559.99,199.94 L560.96,199.47 L561.93,199.01 L562.90,198.55 L563.87,198.10 L564.85,197.65 L565.82,197.21 L566.79,196.77 L567.76,196.34 L568.73,195.91 L569.70,195.48 L570.67,195.06 L571.64,194.65 L572.61,194.24 L573.58,193.83 L574.55,193.43 L575.52,193.04 L576.49,192.64 L577.46,192.26 L578.43,191.87 L579.41,191.49 L580.38,191.12 L581.35,190.75 L582.32,190.38 L583.29,190.02 L584.26,189.66 L585.23,189.30 L586.20,188.95 L587.17,188.60 L588.14,188.26 L589.11,187.92 L590.08,187.58 L591.05,187.25 L592.02,186.92 L592.99,186.59 L593.96,186.27 L594.94,185.95 L595.91,185.64 L596.88,185.32 L597.85,185.02 L598.82,184.71 L599.79,184.41 L600.76,184.11 L601.73,183.82 L602.70,183.52 L603.67,183.24 L604.64,182.95 L605.61,182.67 L606.58,182.39 L607.55,182.12 L608.52,181.84 L609.50,181.57 L610.47,181.31 L611.44,181.05 L612.41,180.79 L613.38,180.53 L614.35,180.28 L615.32,180.03 L616.29,179.78 L617.26,179.53 L618.23,179.29 L619.20,179.05 L620.17,178.82 L621.14,178.59 L622.11,178.36 L623.08,178.13 L624.06,177.90 L625.03,177.68 L626.00,177.46 L626.97,177.25 L627.94,177.03 L628.91,176.82 L629.88,176.62 L630.85,176.41 L631.82,176.21 L632.79,176.01 L633.76,175.81 L634.73,175.61 L635.70,175.42 L636.67,175.23 L637.64,175.04 L638.62,174.86 L639.59,174.67 L640.56,174.49 L641.53,174.32 L642.50,174.14 L643.47,173.97 L644.44,173.79 L645.41,173.63 L646.38,173.46 L647.35,173.29 L648.32,173.13 L649.29,172.97 L650.26,172.81 L651.23,172.66 L652.20,172.50 L653.17,172.35 L654.15,172.20 L655.12,172.06 L656.09,171.91 L657.06,171.77 L658.03,171.62 L659.00,171.48 L659.97,171.35 L660.94,171.21 L661.91,171.08 L662.88,170.94 L663.85,170.81 L664.82,170.68 L665.79,170.56 L666.76,170.43 L667.73,170.31 L668.71,170.19 L669.68,170.07 L670.65,169.95 L671.62,169.83 L672.59,169.71 L673.56,169.60 L674.53,169.49 L675.50,169.38" fill="none" stroke="#2a2a2a" stroke-width="1.45" stroke-dasharray="4.3 3.7" stroke-dashoffset="6.7"/>
<path d="M58.6,8.5 V428.35 H328.5" fill="none" stroke="#5c5c5c" stroke-width="1.55"/>
<path d="M415.5,9 V428.35 H685" fill="none" stroke="#5c5c5c" stroke-width="1.55"/>
<line x1="53" y1="17.4" x2="58.6" y2="17.4" stroke="#5c5c5c" stroke-width="1.5"/>
<path d="M515,0 L515,1237 L197,1010 L197,1180 L530,1409 L696,1409 L696,0 Z" transform="translate(21.63,22.20) scale(0.006592,-0.006855)" fill="#2b2b2b"/>
<text transform="translate(47.90,22.20) scale(1,1.04)" text-anchor="end"> .00</text>
<line x1="53" y1="117.9" x2="58.6" y2="117.9" stroke="#5c5c5c" stroke-width="1.5"/>
<text transform="translate(47.90,122.70) scale(1,1.04)" text-anchor="end">0.75</text>
<line x1="53" y1="218.4" x2="58.6" y2="218.4" stroke="#5c5c5c" stroke-width="1.5"/>
<text transform="translate(47.90,223.20) scale(1,1.04)" text-anchor="end">0.50</text>
<line x1="53" y1="318.9" x2="58.6" y2="318.9" stroke="#5c5c5c" stroke-width="1.5"/>
<text transform="translate(47.90,323.70) scale(1,1.04)" text-anchor="end">0.25</text>
<line x1="53" y1="419.4" x2="58.6" y2="419.4" stroke="#5c5c5c" stroke-width="1.5"/>
<text transform="translate(47.90,424.20) scale(1,1.04)" text-anchor="end">0.00</text>
<line x1="67.3" y1="428.3" x2="67.3" y2="433.8" stroke="#5c5c5c" stroke-width="1.5"/>
<text transform="translate(67.30,449.00) scale(1,1.04)" text-anchor="middle">0</text>
<line x1="117.7" y1="428.3" x2="117.7" y2="433.8" stroke="#5c5c5c" stroke-width="1.5"/>
<text transform="translate(117.74,449.00) scale(1,1.04)" text-anchor="middle">2</text>
<line x1="168.2" y1="428.3" x2="168.2" y2="433.8" stroke="#5c5c5c" stroke-width="1.5"/>
<text transform="translate(168.18,449.00) scale(1,1.04)" text-anchor="middle">4</text>
<line x1="218.6" y1="428.3" x2="218.6" y2="433.8" stroke="#5c5c5c" stroke-width="1.5"/>
<text transform="translate(218.62,449.00) scale(1,1.04)" text-anchor="middle">6</text>
<line x1="269.1" y1="428.3" x2="269.1" y2="433.8" stroke="#5c5c5c" stroke-width="1.5"/>
<text transform="translate(269.06,449.00) scale(1,1.04)" text-anchor="middle">8</text>
<line x1="319.5" y1="428.3" x2="319.5" y2="433.8" stroke="#5c5c5c" stroke-width="1.5"/>
<path d="M515,0 L515,1237 L197,1010 L197,1180 L530,1409 L696,1409 L696,0 Z" transform="translate(311.99,449.00) scale(0.006592,-0.006855)" fill="#2b2b2b"/>
<text transform="translate(319.50,449.00) scale(1,1.04)" text-anchor="middle"> 0</text>
<line x1="409.5" y1="17.4" x2="415.5" y2="17.4" stroke="#5c5c5c" stroke-width="1.5"/>
<path d="M515,0 L515,1237 L197,1010 L197,1180 L530,1409 L696,1409 L696,0 Z" transform="translate(389.78,22.20) scale(0.006592,-0.006855)" fill="#2b2b2b"/>
<text transform="translate(404.80,22.20) scale(1,1.04)" text-anchor="end">0. 4</text>
<line x1="409.5" y1="74.8" x2="415.5" y2="74.8" stroke="#5c5c5c" stroke-width="1.5"/>
<path d="M515,0 L515,1237 L197,1010 L197,1180 L530,1409 L696,1409 L696,0 Z" transform="translate(389.78,79.63) scale(0.006592,-0.006855)" fill="#2b2b2b"/>
<text transform="translate(404.80,79.63) scale(1,1.04)" text-anchor="end">0. 2</text>
<line x1="409.5" y1="132.3" x2="415.5" y2="132.3" stroke="#5c5c5c" stroke-width="1.5"/>
<path d="M515,0 L515,1237 L197,1010 L197,1180 L530,1409 L696,1409 L696,0 Z" transform="translate(389.78,137.06) scale(0.006592,-0.006855)" fill="#2b2b2b"/>
<text transform="translate(404.80,137.06) scale(1,1.04)" text-anchor="end">0. 0</text>
<line x1="409.5" y1="189.7" x2="415.5" y2="189.7" stroke="#5c5c5c" stroke-width="1.5"/>
<text transform="translate(404.80,194.49) scale(1,1.04)" text-anchor="end">0.08</text>
<line x1="409.5" y1="247.1" x2="415.5" y2="247.1" stroke="#5c5c5c" stroke-width="1.5"/>
<text transform="translate(404.80,251.92) scale(1,1.04)" text-anchor="end">0.06</text>
<line x1="409.5" y1="304.5" x2="415.5" y2="304.5" stroke="#5c5c5c" stroke-width="1.5"/>
<text transform="translate(404.80,309.34) scale(1,1.04)" text-anchor="end">0.04</text>
<line x1="409.5" y1="362.0" x2="415.5" y2="362.0" stroke="#5c5c5c" stroke-width="1.5"/>
<text transform="translate(404.80,366.77) scale(1,1.04)" text-anchor="end">0.02</text>
<line x1="409.5" y1="419.4" x2="415.5" y2="419.4" stroke="#5c5c5c" stroke-width="1.5"/>
<text transform="translate(404.80,424.20) scale(1,1.04)" text-anchor="end">0.00</text>
<line x1="424.1" y1="428.3" x2="424.1" y2="433.8" stroke="#5c5c5c" stroke-width="1.5"/>
<text transform="translate(424.10,449.00) scale(1,1.04)" text-anchor="middle">0</text>
<line x1="474.5" y1="428.3" x2="474.5" y2="433.8" stroke="#5c5c5c" stroke-width="1.5"/>
<text transform="translate(474.54,449.00) scale(1,1.04)" text-anchor="middle">2</text>
<line x1="525.0" y1="428.3" x2="525.0" y2="433.8" stroke="#5c5c5c" stroke-width="1.5"/>
<text transform="translate(524.98,449.00) scale(1,1.04)" text-anchor="middle">4</text>
<line x1="575.4" y1="428.3" x2="575.4" y2="433.8" stroke="#5c5c5c" stroke-width="1.5"/>
<text transform="translate(575.42,449.00) scale(1,1.04)" text-anchor="middle">6</text>
<line x1="625.9" y1="428.3" x2="625.9" y2="433.8" stroke="#5c5c5c" stroke-width="1.5"/>
<text transform="translate(625.86,449.00) scale(1,1.04)" text-anchor="middle">8</text>
<line x1="676.3" y1="428.3" x2="676.3" y2="433.8" stroke="#5c5c5c" stroke-width="1.5"/>
<path d="M515,0 L515,1237 L197,1010 L197,1180 L530,1409 L696,1409 L696,0 Z" transform="translate(668.79,449.00) scale(0.006592,-0.006855)" fill="#2b2b2b"/>
<text transform="translate(676.30,449.00) scale(1,1.04)" text-anchor="middle"> 0</text>
<text transform="translate(193.50,467.60) scale(1,1.04)" text-anchor="middle">Years from surgery</text>
<text transform="translate(550.00,467.60) scale(1,1.04)" text-anchor="middle">Years from surgery</text>
<text transform="translate(10.10,218.90) rotate(-90) scale(1,1.04)" text-anchor="middle">Survival probability</text>
<text transform="translate(367.00,218.50) rotate(-90) scale(1,1.04)" text-anchor="middle" style="font-size:13.3px">Difference in survival probabilities</text>
<line x1="69.3" y1="389" x2="121.9" y2="389" stroke="#3c3c3c" stroke-width="1.7"/>
<line x1="69.3" y1="410.3" x2="121.9" y2="410.3" stroke="#3c3c3c" stroke-width="1.7" stroke-dasharray="10.6 5.6"/>
<text transform="translate(127.00,393.00) scale(1,1.04)">Hormonal therapy</text>
<text transform="translate(127.00,414.50) scale(1,1.04)">No hormonal therapy</text>
<text x="-0.5" y="13.7" style="font-weight:bold;font-size:19.5px;fill:#111">a</text>
<text x="356" y="14.8" style="font-weight:bold;font-size:19.5px;fill:#111">b</text>
</svg>
</body></html>
